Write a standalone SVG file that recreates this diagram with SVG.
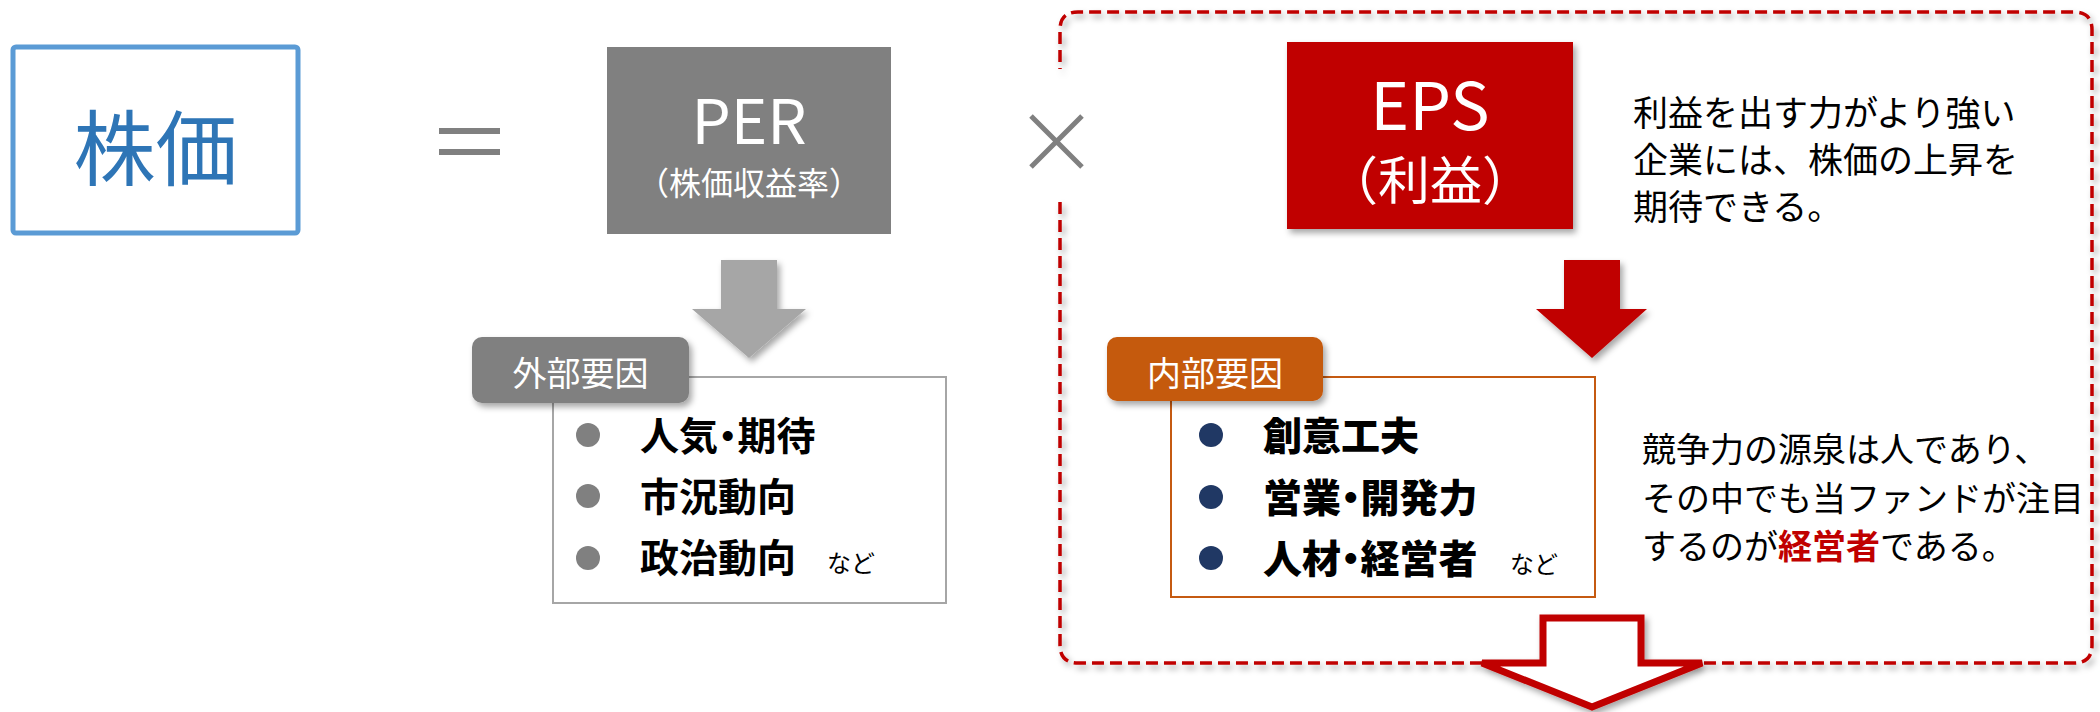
<svg xmlns="http://www.w3.org/2000/svg" width="2100" height="712" viewBox="0 0 2100 712">
<defs>
<filter id="sh" x="-20%" y="-20%" width="140%" height="150%">
<feDropShadow dx="3" dy="4" stdDeviation="3" flood-color="#000" flood-opacity="0.35"/>
</filter>
<style>
text{font-family:"Noto Sans CJK JP","Noto Sans",sans-serif}
.w{fill:#fff}
.body{fill:#000;font-size:35px}
.body2{fill:#000;font-size:34px}
.li{font-size:39px;font-weight:700;fill:#000;font-feature-settings:"palt"}
.li2{font-size:39px;font-weight:900;fill:#000;font-feature-settings:"palt"}
.nado{font-size:24px;fill:#000}
.lbl{font-size:34px;fill:#fff;text-anchor:middle}
.c{text-anchor:middle}
</style>
</defs>
<rect width="2100" height="712" fill="#fff"/>

<g id="container">
<path d="M1060,202 V645 Q1060,663 1078,663 H2074 Q2092,663 2092,645 V30 Q2092,12 2074,12 H1078 Q1060,12 1060,30 V69" fill="none" stroke="#c00000" stroke-width="3.5" stroke-dasharray="12 6" filter="url(#sh)"/>
</g>

<g id="kabuka">
<rect x="13" y="47" width="285" height="186" rx="3" fill="#fff" stroke="#5b9bd5" stroke-width="5"/>
<text x="155.5" y="179" class="c" font-size="82" fill="#2e75b6">株価</text>
</g>

<g id="equals">
<rect x="439" y="128" width="61" height="6" fill="#808080"/>
<rect x="439" y="149" width="61" height="6" fill="#808080"/>
</g>

<g id="per">
<rect x="607" y="47" width="284" height="187" fill="#808080"/>
<text x="749" y="144" class="c w" font-size="62">PER</text>
<text x="749" y="195" class="c w" font-size="32">（株価収益率）</text>
</g>

<g id="times">
<path d="M1031,116 L1082,167 M1082,116 L1031,167" stroke="#808080" stroke-width="5" fill="none"/>
</g>

<g id="eps">
<rect x="1287" y="42" width="286" height="187" fill="#c00000" filter="url(#sh)"/>
<text x="1430" y="130" class="c w" font-size="66">EPS</text>
<text x="1430" y="200" class="c w" font-size="52">（利益）</text>
</g>

<g id="eps-note">
<text class="body" x="1633" y="126">利益を出す力がより強い</text>
<text class="body" x="1633" y="173">企業には、株価の上昇を</text>
<text class="body" x="1633" y="220">期待できる。</text>
</g>

<g id="connectors">
<polygon points="721,260 777,260 777,309 806,309 749,358 692,309 721,309" fill="#a6a6a6" filter="url(#sh)"/>
<polygon points="1564,260 1620,260 1620,309 1647,309 1592,358 1536,309 1564,309" fill="#c00000" filter="url(#sh)"/>
<polygon points="1543,618 1641,618 1641,663 1702,663 1592,707 1482,663 1543,663" fill="#fff" stroke="#c00000" stroke-width="7" filter="url(#sh)"/>
</g>

<g id="external">
<rect x="553" y="377" width="393" height="226" fill="#fff" stroke="#a6a6a6" stroke-width="2"/>
<rect x="472" y="337" width="217" height="66" rx="10" fill="#808080" filter="url(#sh)"/>
<text class="lbl" x="580.5" y="386">外部要因</text>
<circle cx="588" cy="435" r="12" fill="#808080"/>
<circle cx="588" cy="496" r="12" fill="#808080"/>
<circle cx="588" cy="558" r="12" fill="#808080"/>
<text class="li" x="640" y="450">人気・期待</text>
<text class="li" x="640" y="511">市況動向</text>
<text class="li" x="640" y="572">政治動向</text>
<text class="nado" x="827" y="572">など</text>
</g>

<g id="internal">
<rect x="1171" y="377" width="424" height="220" fill="#fff" stroke="#c55a11" stroke-width="2"/>
<rect x="1107" y="337" width="216" height="64" rx="10" fill="#c55a11" filter="url(#sh)"/>
<text class="lbl" x="1215" y="386">内部要因</text>
<circle cx="1211" cy="435" r="12" fill="#203864"/>
<circle cx="1211" cy="497" r="12" fill="#203864"/>
<circle cx="1211" cy="558" r="12" fill="#203864"/>
<text class="li2" x="1263" y="450">創意工夫</text>
<text class="li2" x="1263" y="512">営業・開発力</text>
<text class="li2" x="1263" y="573">人材・経営者</text>
<text class="nado" x="1510" y="573">など</text>
</g>

<g id="internal-note">
<text class="body2" x="1642" y="462">競争力の源泉は人であり、</text>
<text class="body2" x="1642" y="511">その中でも当ファンドが注目</text>
<text class="body2" x="1642" y="559">するのが<tspan fill="#c00000" font-weight="700">経営者</tspan>である。</text>
</g>
</svg>
